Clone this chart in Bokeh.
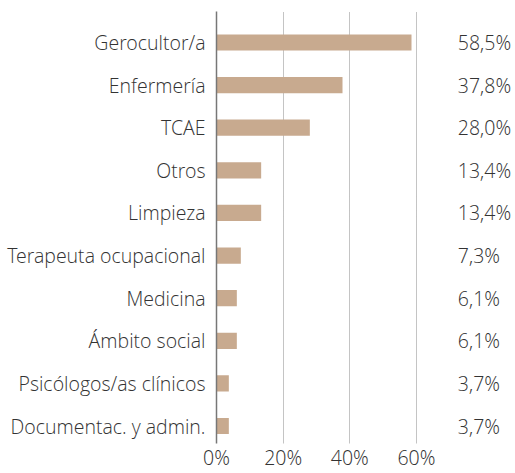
from bokeh.plotting import figure
from bokeh.models import Range1d, FixedTicker, ColumnDataSource
from bokeh.core.properties import value
from bokeh.embed import file_html
from bokeh.resources import INLINE

categories = ["Gerocultor/a", "Enfermería", "TCAE", "Otros", "Limpieza",
              "Terapeuta ocupacional", "Medicina", "Ámbito social",
              "Psicólogos/as clínicos", "Documentac. y admin."]
values = [58.5, 37.8, 28.0, 13.4, 13.4, 7.3, 6.1, 6.1, 3.7, 3.7]
labels = ["58,5%", "37,8%", "28,0%", "13,4%", "13,4%", "7,3%", "6,1%", "6,1%", "3,7%", "3,7%"]
x_ticks = [0, 20, 40, 60]

n = len(categories)
ypos = [n - 1 - i for i in range(n)]
label_x = 72.4

FONT = "Open Sans Light"
TXT = "#333333"

src = ColumnDataSource(dict(y=ypos, v=values, lab=labels, lx=[label_x] * n))

p = figure(width=515, height=473, output_backend="svg", toolbar_location=None,
           x_range=Range1d(0, 89.7), y_range=Range1d(-0.41, 9.727),
           min_border_left=216, min_border_right=0, min_border_top=11,
           min_border_bottom=0)
p.outline_line_color = None
p.background_fill_color = None
p.border_fill_color = None

p.hbar(y="y", left=0, right="v", height=0.38, source=src,
       fill_color="#c8aa8f", line_color=None)
p.text(x="lx", y="y", text="lab", source=src, text_font=value(FONT),
       text_font_size="19.5px", text_color=TXT, text_align="left",
       text_baseline="middle")

p.xaxis.ticker = FixedTicker(ticks=x_ticks)
p.xaxis.major_label_overrides = {t: f"{t}%" for t in x_ticks}
p.xaxis.axis_line_color = None
p.xaxis.major_tick_line_color = None
p.xaxis.minor_tick_line_color = None
p.xaxis.major_tick_out = 0
p.xaxis.major_tick_in = 0
p.xaxis.minor_tick_out = 0
p.xaxis.major_label_text_font = FONT
p.xaxis.major_label_text_font_size = "19.5px"
p.xaxis.major_label_text_color = TXT
p.xaxis.major_label_standoff = 0

p.yaxis.ticker = FixedTicker(ticks=ypos)
p.yaxis.major_label_overrides = {y: c for y, c in zip(ypos, categories)}
p.yaxis.axis_line_color = "#777777"
p.yaxis.axis_line_width = 1.5
p.yaxis.major_tick_line_color = None
p.yaxis.minor_tick_line_color = None
p.yaxis.major_tick_out = 0
p.yaxis.major_tick_in = 0
p.yaxis.minor_tick_out = 0
p.yaxis.major_label_text_font = FONT
p.yaxis.major_label_text_font_size = "19.5px"
p.yaxis.major_label_text_color = TXT
p.yaxis.major_label_standoff = 11

p.ygrid.grid_line_color = None
p.xgrid.ticker = FixedTicker(ticks=[20, 40, 60])
p.xgrid.grid_line_color = "#888888"
p.xgrid.grid_line_dash = "1 1"
p.xgrid.grid_line_width = 1

open("out.html", "w").write(file_html(p, INLINE))
